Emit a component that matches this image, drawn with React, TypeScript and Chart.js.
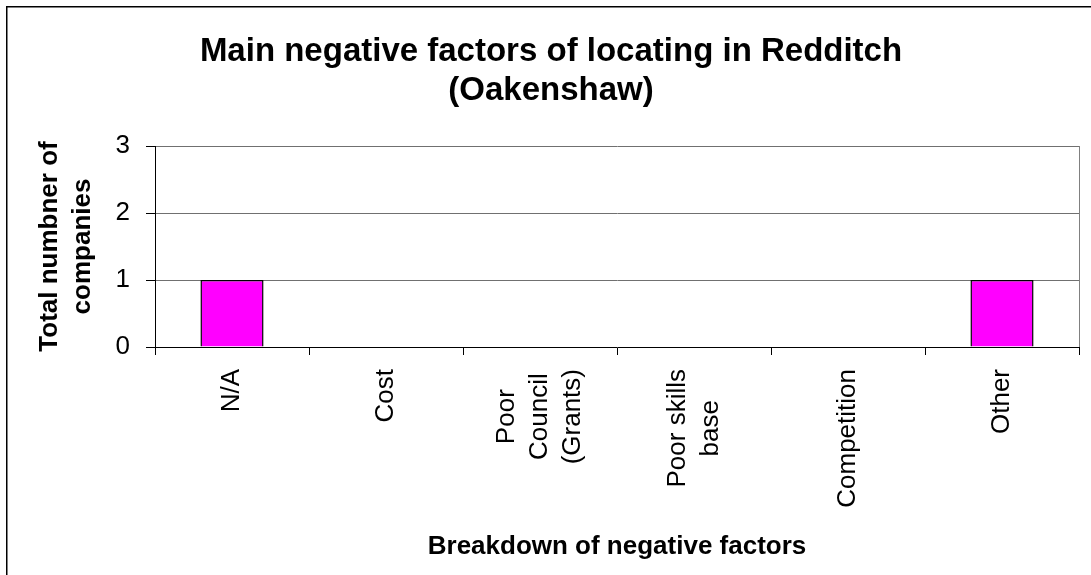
import { useEffect, useRef } from 'react';
import { Chart, registerables } from 'chart.js';

Chart.register(...registerables);

const FONT = '"Liberation Sans", Arial, Helvetica, sans-serif';

const categories: string[][] = [
  ['N/A'],
  ['Cost'],
  ['Poor', 'Council', '(Grants)'],
  ['Poor skills', 'base'],
  ['Competition'],
  ['Other'],
];
const companyCounts: number[] = [1, 0, 0, 0, 0, 1];
const yMin = 0;
const yMax = 3;
const yStep = 1;
const titleLines: string[] = ['Main negative factors of locating in Redditch', '(Oakenshaw)'];
const yTitleLines: string[] = ['Total numbner of', 'companies'];
const xTitle = 'Breakdown of negative factors';

const overlayPlugin = {
  id: 'overlay',
  afterDraw(chart: any) {
    const { ctx, chartArea, scales } = chart;
    ctx.save();
    // plot-area right border
    ctx.strokeStyle = '#808080';
    ctx.lineWidth = 1;
    const rx = Math.round(chartArea.right) + 0.5;
    ctx.beginPath();
    ctx.moveTo(rx, chartArea.top);
    ctx.lineTo(rx, chartArea.bottom);
    ctx.stroke();

    // outer chart border
    ctx.strokeStyle = '#000';
    ctx.lineWidth = 1.5;
    ctx.strokeRect(6.75, 6.75, 1200, 700);

    ctx.fillStyle = '#000';
    ctx.textAlign = 'center';
    ctx.textBaseline = 'middle';

    // main title
    ctx.font = `bold 33px ${FONT}`;
    titleLines.forEach((t, i) => ctx.fillText(t, 551, 52 + i * 39));

    // x axis title
    ctx.font = `bold 26px ${FONT}`;
    ctx.fillText(xTitle, (chartArea.left + chartArea.right) / 2, 547);

    // y axis title
    ctx.save();
    ctx.translate(0, (chartArea.top + chartArea.bottom) / 2);
    ctx.rotate(-Math.PI / 2);
    yTitleLines.forEach((t, i) => ctx.fillText(t, 0, 50 + i * 33));
    ctx.restore();

    // x tick labels (rotated, multi-line centred)
    ctx.font = `26px ${FONT}`;
    const xs = scales.x;
    categories.forEach((lines, i) => {
      const cx = xs.getPixelForValue(i);
      const maxW = Math.max(...lines.map((l) => ctx.measureText(l).width));
      ctx.save();
      ctx.translate(cx, chartArea.bottom + 22 + maxW / 2);
      ctx.rotate(-Math.PI / 2);
      lines.forEach((l, j) => ctx.fillText(l, 0, (j - (lines.length - 1) / 2) * 33));
      ctx.restore();
    });
    ctx.restore();
  },
};

export default function App() {
  const ref = useRef<HTMLCanvasElement | null>(null);
  useEffect(() => {
    if (!ref.current) return;
    const chart = new Chart(ref.current, {
      type: 'bar',
      data: {
        labels: categories.map((c) => c.join(' ')),
        datasets: [
          {
            data: companyCounts,
            backgroundColor: '#FF00FF',
            borderColor: '#000000',
            borderWidth: 1.5,
            barPercentage: 0.41,
            categoryPercentage: 1,
          },
        ],
      },
      options: {
        animation: false,
        responsive: false,
        maintainAspectRatio: false,
        layout: { padding: { left: 0, right: 12, top: 146, bottom: 0 } },
        plugins: { legend: { display: false }, title: { display: false }, tooltip: { enabled: false } },
        scales: {
          x: {
            offset: true,
            afterFit: (s: any) => {
              s.height = 228;
            },
            grid: { offset: true, drawOnChartArea: false, drawTicks: true, tickLength: 8, tickColor: '#000', color: '#000' },
            border: { display: true, color: '#000', width: 1 },
            ticks: { display: false },
          },
          y: {
            min: yMin,
            max: yMax,
            afterFit: (s: any) => {
              s.width = 155;
            },
            ticks: { stepSize: yStep, color: '#000', font: { family: FONT, size: 26 }, padding: 16 },
            grid: {
              color: (c: any) => (c.tick && c.tick.value === 0 ? 'rgba(0,0,0,0)' : '#707070'),
              tickColor: '#000',
              tickLength: 9,
              lineWidth: 1,
            },
            border: { display: true, color: '#000', width: 1 },
          },
        },
      },
      plugins: [overlayPlugin],
    });
    return () => chart.destroy();
  }, []);
  return (
    <div style={{ position: 'absolute', left: 0, top: 0, width: 1091, height: 575, background: '#fff', overflow: 'hidden' }}>
      <canvas ref={ref} width={1091} height={575} style={{ display: 'block' }} />
    </div>
  );
}
